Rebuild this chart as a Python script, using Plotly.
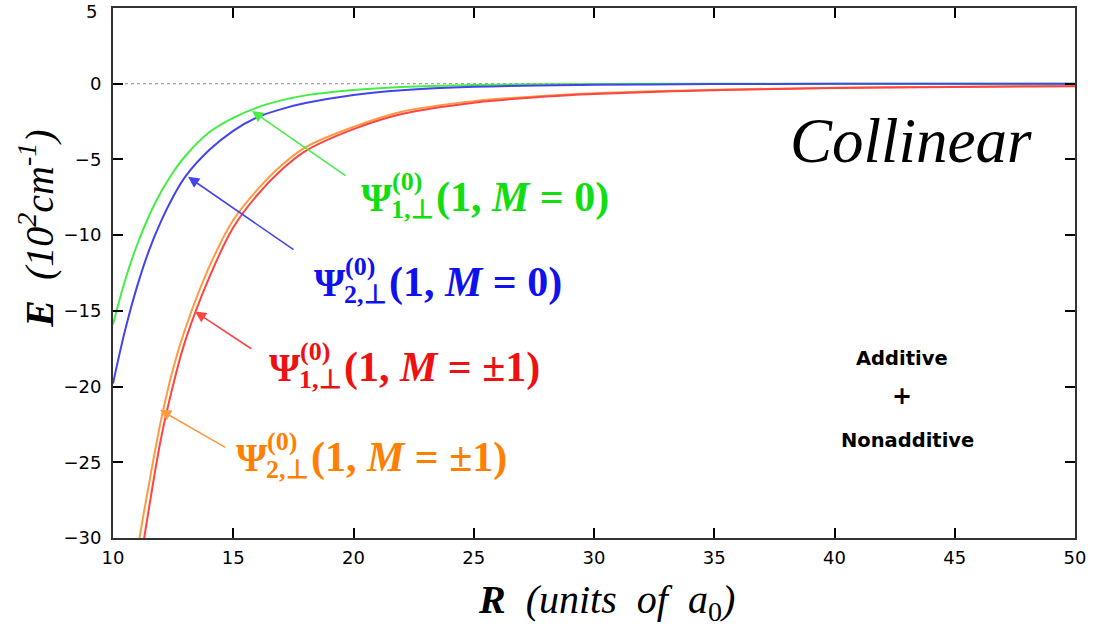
import plotly.graph_objects as go

# ---- data ----
R_green = [10, 10.5, 11, 11.5, 12, 12.5, 13, 14, 15, 16, 17, 18, 20, 22, 25, 30, 35, 40, 45, 50]
E_green = [-15.9, -13.0, -10.65, -8.72, -7.14, -5.85, -4.79, -3.21, -2.25, -1.57, -1.10, -0.77, -0.41, -0.215, -0.082, -0.017, -0.004, -0.001, 0.0, 0.0]

R_blue = [10, 10.5, 11, 11.5, 12, 12.5, 13, 14, 15, 16, 17, 18, 20, 22, 25, 30, 35, 40, 45, 50]
E_blue = [-19.8, -16.3, -13.4, -11.0, -9.08, -7.47, -6.15, -4.38, -3.11, -2.22, -1.68, -1.28, -0.74, -0.43, -0.20, -0.074, -0.027, -0.01, -0.004, -0.0015]

R_red = [10.8, 11, 11.5, 12, 12.5, 13, 14, 15, 16, 17, 18, 20, 22, 25, 28, 30, 35, 40, 45, 50]
E_red = [-35.0, -33.0, -28.0, -23.4, -19.9, -17.0, -12.8, -9.5, -7.35, -5.7, -4.45, -3.0, -2.0, -1.25, -0.85, -0.68, -0.43, -0.29, -0.21, -0.16]

R_orange = [10.8, 11, 11.5, 12, 12.5, 13, 14, 15, 16, 17, 18, 20, 22, 25, 28, 30, 35, 40, 45, 50]
E_orange = [-33.2, -31.0, -26.4, -22.2, -18.8, -16.2, -12.1, -9.0, -7.0, -5.4, -4.2, -2.85, -1.85, -1.15, -0.8, -0.63, -0.4, -0.27, -0.2, -0.15]

x_ticks = [10, 15, 20, 25, 30, 35, 40, 45, 50]
y_ticks = [5, 0, -5, -10, -15, -20, -25, -30]

# label parts: main symbol, superscript, subscript, argument
label_sup = ["(0)", "(0)", "(0)", "(0)"]
label_sub = ["1,⊥", "2,⊥", "1,⊥", "2,⊥"]
label_arg = ["(1, <i>M</i> = 0)", "(1, <i>M</i> = 0)", "(1, <i>M</i> = ±1)", "(1, <i>M</i> = ±1)"]
label_pos = [(20.35, -7.50), (18.40, -13.11), (16.53, -18.76), (15.14, -24.70)]

line_colors = ["#44ee44", "#4444ee", "#ff4444", "#ff9a40"]
text_colors = ["#11dd11", "#1111ee", "#ee1111", "#ff8000"]

# arrows: (tip_x, tip_y, tail_x, tail_y)
arrows = [
    (15.78, -1.8, 19.73, -6.14),
    (13.12, -6.15, 17.57, -11.03),
    (13.41, -15.04, 15.81, -17.57),
    (11.95, -21.53, 14.73, -24.07),
]

fig = go.Figure()

# zero reference line
fig.add_trace(go.Scatter(x=[10, 50], y=[0, 0], mode="lines",
                         line=dict(color="#888888", width=1, dash="dot"),
                         hoverinfo="skip", showlegend=False))

series = [(R_green, E_green, line_colors[0]), (R_blue, E_blue, line_colors[1]),
          (R_orange, E_orange, line_colors[3]), (R_red, E_red, line_colors[2])]
for xs, ys, c in series:
    fig.add_trace(go.Scatter(x=xs, y=ys, mode="lines", line=dict(color=c, width=2, shape="spline"),
                             showlegend=False))

for (tx, ty, ax, ay), c in zip(arrows, line_colors):
    fig.add_annotation(x=tx, y=ty, ax=ax, ay=ay, xref="x", yref="y", axref="x", ayref="y",
                       text="", showarrow=True, arrowhead=2, arrowsize=1.4, arrowwidth=1.6,
                       arrowcolor=c, standoff=0)

serif = "Liberation Serif"
for (lx, ly), sp, sb, arg, c in zip(label_pos, label_sup, label_sub, label_arg, text_colors):
    common = dict(x=lx, y=ly, xref="x", yref="y", showarrow=False, xanchor="left", yanchor="middle")
    fig.add_annotation(text="<b>Ψ</b>", font=dict(family=serif, size=40, color=c), xshift=-3, **common)
    fig.add_annotation(text="<b>" + sp + "</b>", font=dict(family=serif, size=26, color=c),
                       xshift=28, yshift=16, **common)
    fig.add_annotation(text="<b>" + sb + "</b>", font=dict(family=serif, size=26, color=c),
                       xshift=27, yshift=-12, **common)
    fig.add_annotation(text="<b>" + arg + "</b>", font=dict(family=serif, size=42, color=c),
                       xshift=72, **common)

fig.add_annotation(x=43.18, y=-3.8, xref="x", yref="y", text="<i>Collinear</i>", showarrow=False,
                   font=dict(family=serif, size=63, color="black"))
for xx, yy, t, s in [(42.79, -18.16, "Additive", 19.5), (42.79, -20.6, "+", 24), (43.03, -23.55, "Nonadditive", 19.5)]:
    fig.add_annotation(x=xx, y=yy, xref="x", yref="y", text="<b>" + t + "</b>", showarrow=False,
                       font=dict(family="DejaVu Sans", size=s, color="black"))

# axis titles as annotations (positioned like the reference)
fig.add_annotation(x=0, y=-9.58, xref="paper", yref="y", xshift=-76, textangle=-90,
                   xanchor="center", yanchor="middle",
                   text="<b><i>E</i></b>  <i>(10<sup>2</sup>cm<sup>-1</sup>)</i>", showarrow=False,
                   font=dict(family=serif, size=40, color="black"))
fig.add_annotation(x=30.54, y=0, xref="x", yref="paper", yshift=-64,
                   xanchor="center", yanchor="middle",
                   text="<b><i>R</i></b>  <i>(units  of  a</i><sub>0</sub><i>)</i>", showarrow=False,
                   font=dict(family=serif, size=40, color="black"))

tick_font = dict(family="DejaVu Sans", size=18, color="black")
axis_common = dict(showline=True, linecolor="#333333", linewidth=2, mirror="ticks",
                   ticks="inside", ticklen=10, tickwidth=2, tickcolor="black",
                   showgrid=False, zeroline=False, automargin=False,
                   ticklabeloverflow="allow", tickfont=tick_font)

fig.update_xaxes(range=[10, 50], tickvals=x_ticks, ticktext=[str(v) for v in x_ticks],
                 ticklabelstandoff=2, **axis_common)
# the top tick label ("5") is drawn as an annotation so it is not clipped by the page edge
y_ticktext = [("−" + str(-v)) if v < 0 else ("" if v == y_ticks[0] else str(v)) for v in y_ticks]
fig.update_yaxes(range=[-30, 5], tickvals=y_ticks, ticktext=y_ticktext,
                 ticklabelstandoff=6, **axis_common)
fig.add_annotation(x=0, y=y_ticks[0], xref="paper", yref="y", xanchor="right", yanchor="top",
                   xshift=-15, yshift=8, text=str(y_ticks[0]), showarrow=False, font=tick_font,
                   borderpad=0)

fig.update_layout(width=1094, height=626, margin=dict(l=113, r=19, t=8, b=88, autoexpand=False),
                  plot_bgcolor="white", paper_bgcolor="white")

fig.write_html("out.html", config={"displayModeBar": False},
               post_script="document.body.style.margin='0';document.body.style.overflow='hidden';")
